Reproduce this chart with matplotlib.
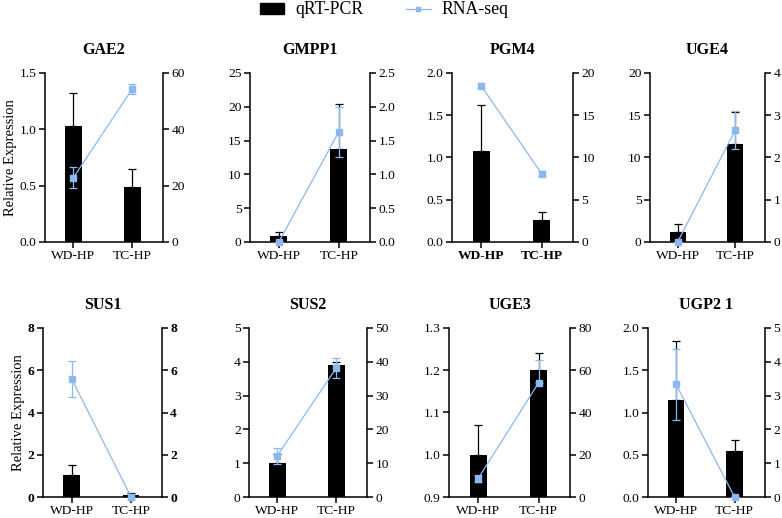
import matplotlib
matplotlib.use("Agg")
import matplotlib.pyplot as plt
from matplotlib.lines import Line2D
from matplotlib.patches import Patch

plt.rcParams['font.family'] = ['Liberation Serif', 'DejaVu Serif']

categories = ["WD-HP", "TC-HP"]
genes = ["GAE2", "GMPP1", "PGM4", "UGE4", "SUS1", "SUS2", "UGE3", "UGP2 1"]

qpcr_vals = {
    "GAE2": [1.03, 0.49], "GMPP1": [0.9, 13.8], "PGM4": [1.08, 0.26], "UGE4": [1.2, 11.6],
    "SUS1": [1.05, 0.10], "SUS2": [1.02, 3.92], "UGE3": [1.00, 1.20], "UGP2 1": [1.15, 0.54],
}
qpcr_err = {
    "GAE2": [0.29, 0.16], "GMPP1": [0.6, 6.6], "PGM4": [0.54, 0.09], "UGE4": [0.9, 3.8],
    "SUS1": [0.45, 0.10], "SUS2": [0.26, 0.08], "UGE3": [0.07, 0.04], "UGP2 1": [0.70, 0.14],
}
rna_vals = {
    "GAE2": [22.8, 54.4], "GMPP1": [0.0, 1.63], "PGM4": [18.5, 8.1], "UGE4": [0.0, 2.64],
    "SUS1": [5.6, 0.0], "SUS2": [12.2, 38.2], "UGE3": [8.7, 54.0], "UGP2 1": [3.33, 0.0],
}
rna_err_low = {
    "GAE2": [3.8, 1.8], "GMPP1": [0.0, 0.37], "PGM4": [0.3, 0.3], "UGE4": [0.0, 0.45],
    "SUS1": [0.85, 0.15], "SUS2": [2.3, 3.0], "UGE3": [1.5, 0.0], "UGP2 1": [1.05, 0.0],
}
rna_err_high = {
    "GAE2": [3.8, 1.8], "GMPP1": [0.0, 0.37], "PGM4": [0.3, 0.3], "UGE4": [0.0, 0.45],
    "SUS1": [0.85, 0.15], "SUS2": [2.3, 3.0], "UGE3": [1.5, 11.0], "UGP2 1": [1.05, 0.0],
}
left_lims = {
    "GAE2": (0, 1.5, [0.0, 0.5, 1.0, 1.5], "{:.1f}"), "GMPP1": (0, 25, [0, 5, 10, 15, 20, 25], "{:.0f}"),
    "PGM4": (0, 2.0, [0.0, 0.5, 1.0, 1.5, 2.0], "{:.1f}"), "UGE4": (0, 20, [0, 5, 10, 15, 20], "{:.0f}"),
    "SUS1": (0, 8, [0, 2, 4, 6, 8], "{:.0f}"), "SUS2": (0, 5, [0, 1, 2, 3, 4, 5], "{:.0f}"),
    "UGE3": (0.9, 1.3, [0.9, 1.0, 1.1, 1.2, 1.3], "{:.1f}"), "UGP2 1": (0, 2.0, [0.0, 0.5, 1.0, 1.5, 2.0], "{:.1f}"),
}
right_lims = {
    "GAE2": (0, 60, [0, 20, 40, 60], "{:.0f}"), "GMPP1": (0, 2.5, [0.0, 0.5, 1.0, 1.5, 2.0, 2.5], "{:.1f}"),
    "PGM4": (0, 20, [0, 5, 10, 15, 20], "{:.0f}"), "UGE4": (0, 4, [0, 1, 2, 3, 4], "{:.0f}"),
    "SUS1": (0, 8, [0, 2, 4, 6, 8], "{:.0f}"), "SUS2": (0, 50, [0, 10, 20, 30, 40, 50], "{:.0f}"),
    "UGE3": (0, 80, [0, 20, 40, 60, 80], "{:.0f}"), "UGP2 1": (0, 5, [0, 1, 2, 3, 4, 5], "{:.0f}"),
}

W, H = 782, 518
fig = plt.figure(figsize=(W / 100, H / 100), dpi=100)

boxes = {
    "GAE2": (45, 163, 73, 242), "GMPP1": (250, 370, 73, 242), "PGM4": (452, 573, 73, 242), "UGE4": (650, 765, 73, 242),
    "SUS1": (43, 162, 328, 497), "SUS2": (249, 367, 328, 497), "UGE3": (449, 570, 328, 497), "UGP2 1": (648, 765, 328, 497),
}

blue = "#8cb8f2"
lw = 1.1
tfs = 9.7
x = [0, 1]
for g in genes:
    l, r, t, b = boxes[g]
    ax = fig.add_axes([l / W, 1 - b / H, (r - l) / W, (b - t) / H])
    lo, hi, ticks, fmt = left_lims[g]
    vals = qpcr_vals[g]
    ax.bar(x, [v - lo for v in vals], bottom=lo, width=0.28, color="black", zorder=2)
    ax.errorbar(x, vals, yerr=[[0, 0], qpcr_err[g]], fmt="none", ecolor="black",
                elinewidth=0.9, capsize=3, capthick=0.9, zorder=3)
    ax.set_ylim(lo, hi)
    ax.set_xlim(-0.48, 1.52)
    ax.set_yticks(ticks)
    bold = g in ("SUS1",)
    ax.set_yticklabels([fmt.format(tk) for tk in ticks], fontsize=tfs, fontweight="bold" if bold else "normal")
    ax.set_xticks(x)
    ax.set_xticklabels(categories, fontsize=tfs, fontweight="bold" if g == "PGM4" else "normal")
    for s in ("top", "right"):
        ax.spines[s].set_visible(False)
    for s in ("left", "bottom"):
        ax.spines[s].set_linewidth(lw)
    ax.tick_params(axis="both", direction="out", length=4, width=lw, pad=2)
    ax.set_title(g, fontsize=11.5, fontweight="bold", pad=14)
    if g in ("GAE2", "SUS1"):
        ax.set_ylabel("Relative Expression", fontsize=10.5, labelpad=2)

    ax2 = ax.twinx()
    rlo, rhi, rticks, rfmt = right_lims[g]
    ax2.errorbar(x, rna_vals[g], yerr=[rna_err_low[g], rna_err_high[g]], fmt="-s", color=blue, markersize=4,
                 linewidth=0.9, elinewidth=0.9, capsize=3, capthick=0.9, zorder=4)
    ax2.set_ylim(rlo, rhi)
    ax2.set_yticks(rticks)
    ax2.set_yticklabels([rfmt.format(tk) for tk in rticks], fontsize=tfs, fontweight="bold" if bold else "normal")
    for s in ("top", "left", "bottom"):
        ax2.spines[s].set_visible(False)
    ax2.spines["right"].set_linewidth(lw)
    ax2.tick_params(axis="y", direction="out", length=4, width=lw, pad=2)
    for artist in ax2.get_children():
        try:
            artist.set_clip_on(False)
        except Exception:
            pass

handles = [Patch(facecolor="black", edgecolor="black", label="qRT-PCR"),
           Line2D([0], [0], color=blue, marker="s", markersize=3.5, linewidth=0.9, label="RNA-seq")]
fig.legend(handles=handles, loc="center", bbox_to_anchor=(384 / W, 1 - 10 / H), ncol=2, frameon=False,
           fontsize=12.8, handlelength=1.4, handleheight=0.55, columnspacing=2.4, handletextpad=0.6)

fig.savefig("out.png", dpi=100)
